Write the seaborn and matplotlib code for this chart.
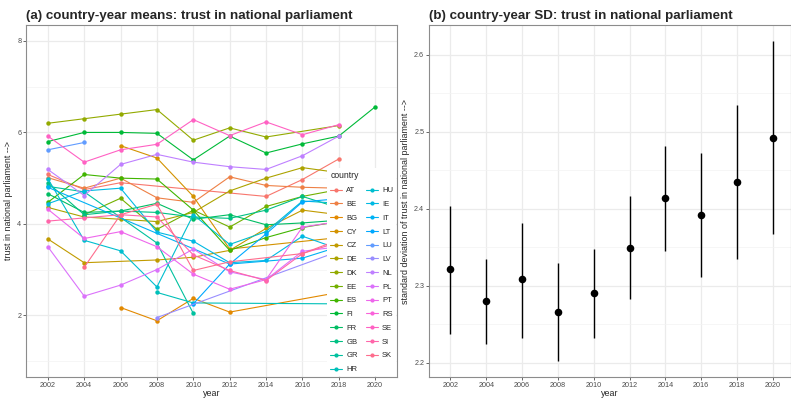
import numpy as np
import pandas as pd
import matplotlib
matplotlib.use("Agg")
import matplotlib.pyplot as plt
from matplotlib.lines import Line2D
import seaborn as sns

# survey years (ESS rounds)
years = [2002, 2004, 2006, 2008, 2010, 2012, 2014, 2016, 2018, 2020]
nan = np.nan

# (a) country-year means, one list per country, nan = not in that round
countries = ["AT", "BE", "BG", "CY", "CZ", "DE", "DK", "EE", "ES", "FI", "FR", "GB", "GR", "HR",
             "HU", "IE", "IT", "LT", "LU", "LV", "NL", "PL", "PT", "RS", "SE", "SI", "SK"]
mean_AT = [5.08, 4.75, 4.90, nan, nan, nan, 4.60, 4.97, 5.42, nan]
mean_BE = [5.01, 4.78, 5.00, 4.57, 4.47, 5.03, 4.84, 4.80, 4.78, nan]
mean_BG = [nan, nan, 2.17, 1.88, 2.37, 2.07, nan, nan, 2.50, nan]
mean_CY = [nan, nan, 5.71, 5.44, 4.60, 3.45, nan, nan, 3.70, nan]
mean_CZ = [3.67, 3.15, nan, 3.21, 3.27, 3.42, 3.90, 4.30, 4.20, nan]
mean_DE = [4.36, 4.15, 4.10, 4.05, 4.25, 4.72, 5.00, 5.23, 5.12, nan]
mean_DK = [6.20, 6.30, 6.40, 6.50, 5.83, 6.10, 5.90, nan, 6.15, nan]
mean_EE = [nan, 4.20, 4.56, 3.88, 4.30, 3.93, 4.38, 4.60, 4.75, nan]
mean_ES = [4.47, 5.08, 5.00, 4.98, 4.30, 3.42, 3.70, 3.92, 4.05, nan]
mean_FI = [5.80, 6.00, 6.00, 5.98, 5.40, 5.92, 5.55, 5.75, 5.92, 6.56]
mean_FR = [4.66, 4.25, 4.28, 4.45, 4.10, 4.20, 3.98, 4.02, 4.08, nan]
mean_GB = [4.90, 4.20, 4.28, 4.25, 4.15, 4.12, 4.30, 4.60, 4.35, nan]
mean_GR = [4.82, 4.70, nan, 3.58, 2.04, nan, nan, nan, nan, nan]
mean_HR = [nan, nan, nan, 2.50, 2.27, nan, nan, nan, 2.25, nan]
mean_HU = [4.99, 3.64, 3.41, 2.62, 4.20, 3.55, 3.83, 4.50, 4.45, nan]
mean_IE = [4.44, 4.72, 4.78, 3.82, 3.62, 3.15, 3.20, 3.73, 3.45, nan]
mean_IT = [4.80, nan, nan, nan, nan, 3.12, nan, 3.25, 3.50, nan]
mean_LT = [nan, nan, nan, nan, 2.25, 3.12, 3.78, 4.48, 4.55, nan]
mean_LU = [5.62, 5.78, nan, nan, nan, nan, nan, nan, nan, nan]
mean_LV = [nan, nan, nan, 1.95, nan, nan, nan, nan, 3.40, nan]
mean_NL = [5.19, 4.62, 5.30, 5.52, 5.35, 5.25, 5.19, 5.49, 5.92, nan]
mean_PL = [3.50, 2.42, 2.66, 3.00, 3.45, 2.95, 2.78, 3.40, 3.50, nan]
mean_PT = [4.32, 3.68, 3.83, 3.50, 2.90, 2.57, 2.78, 3.93, 4.05, nan]
mean_RS = [nan, nan, nan, nan, nan, nan, nan, nan, 3.30, nan]
mean_SE = [5.92, 5.35, 5.62, 5.74, 6.28, 5.93, 6.23, 5.95, 6.17, nan]
mean_SI = [4.06, 4.13, 4.20, 4.15, 3.32, 2.98, 2.76, 3.35, 3.60, nan]
mean_SK = [nan, 3.05, 4.20, 4.43, 2.98, 3.17, nan, 3.35, 3.65, nan]

# (b) country-year SD with interval
sd_mid = [2.321, 2.280, 2.308, 2.266, 2.290, 2.349, 2.414, 2.392, 2.435, 2.492]
sd_lo = [2.237, 2.224, 2.232, 2.202, 2.232, 2.282, 2.345, 2.311, 2.335, 2.367]
sd_hi = [2.404, 2.335, 2.382, 2.329, 2.348, 2.416, 2.482, 2.473, 2.535, 2.618]


def hue_pal(n, l=65, c=100):
    """ggplot2 default hue palette (HCL -> sRGB)"""
    hues = np.linspace(15, 375, n + 1)[:-1]
    Xn, Yn, Zn = 95.047, 100.0, 108.883
    un = 4 * Xn / (Xn + 15 * Yn + 3 * Zn)
    vn = 9 * Yn / (Xn + 15 * Yn + 3 * Zn)
    out = []
    for h in hues:
        u = c * np.cos(np.radians(h))
        v = c * np.sin(np.radians(h))
        Y = Yn * ((l + 16) / 116) ** 3
        up = u / (13 * l) + un
        vp = v / (13 * l) + vn
        X = Y * 9 * up / (4 * vp)
        Z = Y * (12 - 3 * up - 20 * vp) / (4 * vp)
        xyz = np.array([X, Y, Z]) / 100
        M = np.array([[3.2404542, -1.5371385, -0.4985314],
                      [-0.9692660, 1.8760108, 0.0415560],
                      [0.0556434, -0.2040259, 1.0572252]])
        rgb = M @ xyz
        rgb = np.where(rgb <= 0.0031308, 12.92 * rgb,
                       1.055 * np.power(np.clip(rgb, 0, None), 1 / 2.4) - 0.055)
        out.append(tuple(np.clip(rgb, 0, 1)))
    return out


series = {cc: globals()["mean_" + cc] for cc in countries}
rows = []
for cc in countries:
    for yr, val in zip(years, series[cc]):
        if not np.isnan(val):
            rows.append({"country": cc, "year": yr, "mean": val})
df = pd.DataFrame(rows)
sd_df = pd.DataFrame({"year": years, "sd": sd_mid, "lo": sd_lo, "hi": sd_hi})

palette = dict(zip(countries, hue_pal(len(countries))))

sns.set_theme(style="whitegrid")
plt.rcParams["font.family"] = ["Liberation Sans", "DejaVu Sans"]

W, H = 791, 399
fig = plt.figure(figsize=(W / 100, H / 100), dpi=100)


def px_axes(x0, y0, x1, y1):
    return fig.add_axes([x0 / W, 1 - y1 / H, (x1 - x0) / W, (y1 - y0) / H])


def bw_style(ax, minor_y):
    ax.set_facecolor("white")
    for s in ax.spines.values():
        s.set_color("#8c8c8c")
        s.set_linewidth(0.8)
        s.set_visible(True)
    ax.set_yticks(minor_y, minor=True)
    ax.grid(True, which="major", color="#ebebeb", linewidth=0.9)
    ax.grid(True, which="minor", axis="y", color="#f3f3f3", linewidth=0.5)
    ax.grid(False, which="minor", axis="x")
    ax.set_axisbelow(True)
    ax.tick_params(axis="both", which="major", labelsize=5.2, labelcolor="#4d4d4d",
                   color="#4d4d4d", length=2.2, width=0.6, direction="out", pad=1.2,
                   bottom=True, left=True)
    ax.tick_params(axis="both", which="minor", length=0)
    ax.set_xticks(years)


# ---- (a) means
ax1 = px_axes(26, 25, 397, 377)
sns.lineplot(data=df, x="year", y="mean", hue="country", hue_order=countries,
             palette=palette, marker="o", markersize=3.2, markeredgewidth=0,
             linewidth=0.8, legend=False, ax=ax1, estimator=None, sort=True)
ax1.set_xlim(2000.8, 2021.2)
ax1.set_ylim(0.65, 8.35)
ax1.set_yticks([2, 4, 6, 8])
bw_style(ax1, [1, 3, 5, 7])
ax1.set_xlabel("year", fontsize=6.4, labelpad=0)
ax1.set_ylabel("trust in national parliament -->", fontsize=6.4, labelpad=3)
ax1.set_title("(a) country-year means: trust in national parliament", loc="left",
              fontsize=9.6, fontweight="bold", pad=4)

handles = [Line2D([], [], color=palette[cc], marker="o", markersize=3, markeredgewidth=0,
                  linewidth=0.8) for cc in countries]
leg = ax1.legend(handles, countries, title="country", ncol=2, loc="lower right",
                 bbox_to_anchor=(1, 0), borderaxespad=0.1, fontsize=5.5,
                 title_fontsize=6.2, frameon=True, fancybox=False, framealpha=1,
                 handlelength=1.5, handletextpad=0.6, labelspacing=0.84,
                 columnspacing=1.1, alignment="left", borderpad=0.4)
leg.get_frame().set_edgecolor("white")
leg.get_frame().set_linewidth(0)

# ---- (b) SD
ax2 = px_axes(429, 25, 791, 377)
ax2.vlines(sd_df["year"], sd_df["lo"], sd_df["hi"], color="black", linewidth=1.0)
sns.scatterplot(data=sd_df, x="year", y="sd", color="black", s=30, linewidth=0, ax=ax2)
rng = sd_df["hi"].max() - sd_df["lo"].min()
ax2.set_ylim(sd_df["lo"].min() - 0.05 * rng, sd_df["hi"].max() + 0.05 * rng)
ax2.set_xlim(2000.8, 2021.02)
ax2.set_yticks([2.2, 2.3, 2.4, 2.5, 2.6])
bw_style(ax2, [2.25, 2.35, 2.45, 2.55])
ax2.set_xlabel("year", fontsize=6.4, labelpad=0)
ax2.set_ylabel("standard deviation of trust in national parliament -->", fontsize=6.4,
               labelpad=3)
ax2.set_title("(b) country-year SD: trust in national parliament", loc="left",
              fontsize=9.6, fontweight="bold", pad=4)

fig.savefig("out.png", dpi=100, facecolor="white")
